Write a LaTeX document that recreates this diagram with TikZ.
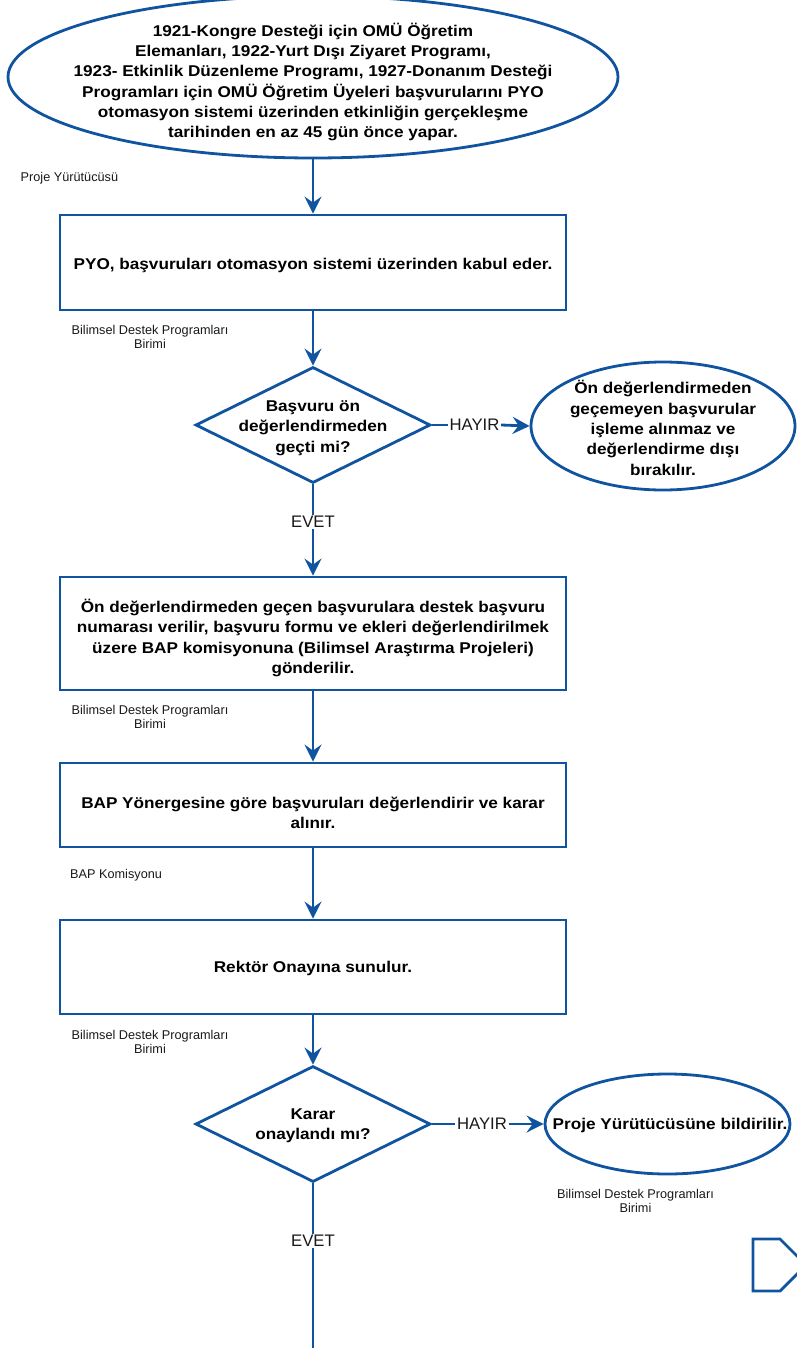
\documentclass[tikz,border=0pt]{standalone}
\usepackage{fontspec}
\setmainfont{Liberation Sans}[FakeStretch=1.1]
\newfontfamily\lblfont{Liberation Sans}
\usetikzlibrary{shapes.geometric,arrows.meta}
\definecolor{fcblue}{RGB}{16,84,160}
\definecolor{lbl}{RGB}{25,25,25}
\tikzset{
  x=1pt, y=-1pt,
  shapeline/.style={draw=fcblue, line width=2.8pt, fill=white},
  procbox/.style={shapeline, rectangle, minimum width=506pt, minimum height=#1, inner sep=0pt},
  ovalbox/.style={shapeline, ellipse, inner sep=0pt},
  decbox/.style={shapeline, diamond, inner sep=0pt, minimum width=235pt, minimum height=116pt},
  maintext/.style={align=center, font=\fontsize{15.6}{20.3}\selectfont\bfseries, text=black, inner sep=0pt},
  roletext/.style={align=center, font=\lblfont\fontsize{12.7}{13.8}\selectfont, text=lbl, inner sep=0pt},
  branchtext/.style={font=\lblfont\fontsize{16.7}{18}\selectfont, text=lbl, fill=white, inner sep=1.5pt},
  flow/.style={draw=fcblue, line width=2.8pt, -{Stealth[length=17pt,width=17pt,inset=6pt]}},
  plainflow/.style={draw=fcblue, line width=2.8pt},
}
\begin{document}
\begin{tikzpicture}
\useasboundingbox (0,0) rectangle (797,1348);
% shapes
\node[ovalbox, minimum width=610pt, minimum height=162pt] (start) at (313,77) {};
\node[maintext] (starttext) at (313,82) {1921-Kongre Desteği için OMÜ Öğretim\\Elemanları, 1922-Yurt Dışı Ziyaret Programı,\\1923- Etkinlik Düzenleme Programı, 1927-Donanım Desteği\\Programları için OMÜ Öğretim Üyeleri başvurularını PYO\\otomasyon sistemi üzerinden etkinliğin gerçekleşme\\tarihinden en az 45 gün önce yapar.};

\node[procbox=95pt] (r1) at (313,262.5) {};
\node[maintext] (r1text) at (313,265) {PYO, başvuruları otomasyon sistemi üzerinden kabul eder.};

\node[decbox] (d1) at (313,425) {};
\node[maintext] (d1text) at (313,428) {Başvuru ön\\değerlendirmeden\\geçti mi?};

\node[ovalbox, minimum width=264pt, minimum height=128pt] (e1) at (663,426) {};
\node[maintext] (e1text) at (663,428) {Ön değerlendirmeden\\geçemeyen başvurular\\işleme alınmaz ve\\değerlendirme dışı\\bırakılır.};

\node[procbox=113pt] (r2) at (313,633.5) {};
\node[maintext] (r2text) at (313,638) {Ön değerlendirmeden geçen başvurulara destek başvuru\\numarası verilir, başvuru formu ve ekleri değerlendirilmek\\üzere BAP komisyonuna (Bilimsel Araştırma Projeleri)\\gönderilir.};

\node[procbox=84pt] (r3) at (313,805) {};
\node[maintext] (r3text) at (313,813) {BAP Yönergesine göre başvuruları değerlendirir ve karar\\alınır.};

\node[procbox=94pt] (r4) at (313,967) {};
\node[maintext] (r4text) at (313,968) {Rektör Onayına sunulur.};

\node[decbox] (d2) at (313,1124) {};
\node[maintext] (d2text) at (313,1126) {Karar\\onaylandı mı?};

\node[ovalbox, minimum width=245pt, minimum height=100pt] (e2) at (667.5,1124) {};
\node[maintext] (e2text) at (670,1125) {Proje Yürütücüsüne bildirilir.};

% off-page connector
\draw[shapeline, fill=none] (753,1239) -- (780,1239) -- (806,1265) -- (780,1291) -- (753,1291) -- cycle;

% role labels
\node[roletext, anchor=west] (lab0) at (20.5,178) {Proje Yürütücüsü};
\node[roletext] (lab1) at (150,336.5) {Bilimsel Destek Programları\\Birimi};
\node[roletext] (lab2) at (150,716.5) {Bilimsel Destek Programları\\Birimi};
\node[roletext, anchor=west] (lab3) at (70,875) {BAP Komisyonu};
\node[roletext] (lab4) at (150,1041.5) {Bilimsel Destek Programları\\Birimi};
\node[roletext] (lab5) at (635.5,1201) {Bilimsel Destek Programları\\Birimi};

% branch labels
\node[branchtext] (h1) at (474.5,425) {HAYIR};
\node[branchtext] (ev1) at (313,522) {EVET};
\node[branchtext] (h2) at (482,1124) {HAYIR};
\node[branchtext] (ev2) at (313,1241) {EVET};
\coordinate (bottomend) at (313,1360);

% connectors
\draw[flow] (start.south) -- (r1.north);
\draw[flow] (r1.south) -- (d1.north);
\draw[plainflow] (d1.east) -- (h1.west);
\draw[flow] (h1.east) -- (e1.west);
\draw[plainflow] (d1.south) -- (ev1.north);
\draw[flow] (ev1.south) -- (r2.north);
\draw[flow] (r2.south) -- (r3.north);
\draw[flow] (r3.south) -- (r4.north);
\draw[flow] (r4.south) -- (d2.north);
\draw[plainflow] (d2.east) -- (h2.west);
\draw[flow] (h2.east) -- (e2.west);
\draw[plainflow] (d2.south) -- (ev2.north);
\draw[plainflow] (ev2.south) -- (bottomend);
\end{tikzpicture}
\end{document}
